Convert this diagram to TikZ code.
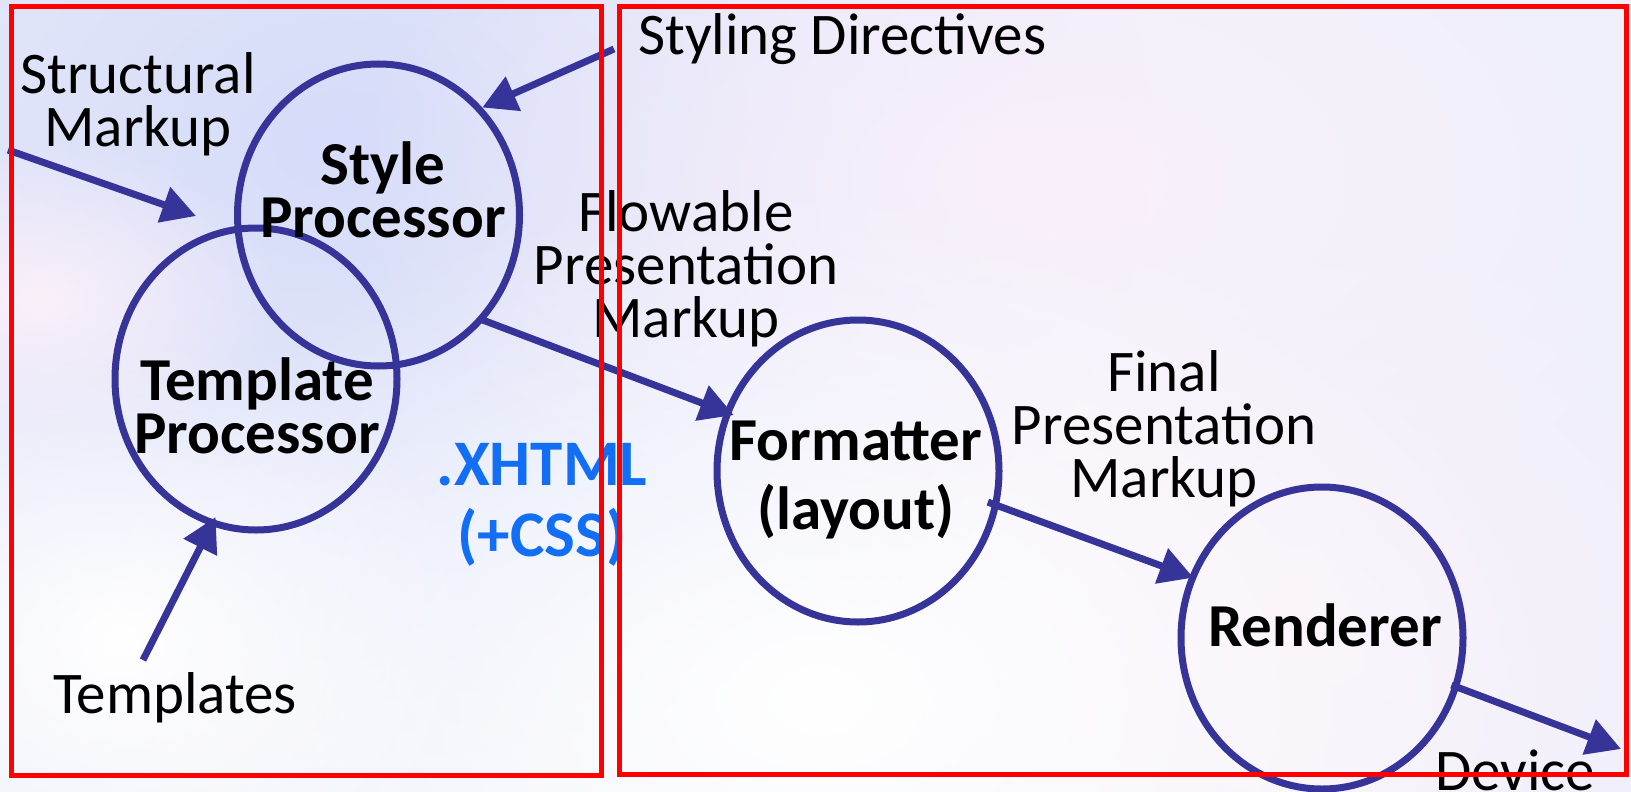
\documentclass[tikz,border=0pt]{standalone}
\usepackage{fontspec}
\setmainfont{Carlito}
\usetikzlibrary{arrows.meta,shapes.geometric,fadings}

\definecolor{procblue}{RGB}{54,51,153}
\definecolor{framered}{RGB}{255,0,0}
\definecolor{docblue}{RGB}{17,110,245}
\definecolor{bgbase}{RGB}{238,240,251}
\definecolor{bglav}{RGB}{214,220,249}
\definecolor{bgpink}{RGB}{250,240,250}
\definecolor{bgwhite}{RGB}{255,255,255}

\tikzfading[name=softblob, inner color=transparent!0, outer color=transparent!100]

\begin{document}
\begin{tikzpicture}[x=1pt,y=-1pt,
  proc/.style={draw=procblue, line width=7pt, ellipse,
    minimum width=282pt, minimum height=302pt, inner sep=0pt},
  flow/.style={draw=procblue, fill=procblue, line width=7pt,
    -{Triangle[length=34pt,width=36pt]}},
  lbl/.style={font=\fontsize{59}{53}\selectfont, align=center,
    inner sep=0pt, anchor=base},
  plbl/.style={lbl, font=\bfseries\fontsize{61}{53}\selectfont},
  frame/.style={draw=framered, line width=5pt}
]
\useasboundingbox (0,0) rectangle (1631,792);

% soft background wash
\fill[bgbase] (0,0) rectangle (1631,792);
\fill[bglav, path fading=softblob] (340,140) ellipse (820 and 620);
\fill[bgpink, path fading=softblob] (1050,180) ellipse (700 and 420);
\fill[bgpink, path fading=softblob] (1300,620) ellipse (520 and 420);
\fill[bgwhite, path fading=softblob] (820,700) ellipse (760 and 520);
\fill[bgwhite, path fading=softblob] (120,640) ellipse (360 and 300);
\fill[bgpink, path fading=softblob] (40,300) ellipse (240 and 160);

% processing stages
\node[proc] (style) at (378.5,215) {};
\node[proc] (template) at (256,379) {};
\node[proc] (formatter) at (858,471) {};
\node[proc] (renderer) at (1322,638) {};

% labels (a multi-line label sits on the baseline of its last line)
\node[lbl, anchor=base west] (styling) at (638,55) {Styling Directives};
\node[lbl] (structural) at (138,146) {Structural\\Markup};
\node[lbl] (templates) at (175,713) {Templates};
\node[plbl] (styletxt) at (383,237) {Style\\Processor};
\node[plbl] (templatetxt) at (257,453) {Template\\Processor};
\node[plbl, text=docblue, font=\bfseries\fontsize{65}{71}\selectfont]
  (xhtml) at (542,556) {.XHTML\\(+CSS)};
\node[lbl] (flowable) at (686,337) {Flowable\\Presentation\\Markup};
\node[plbl, font=\bfseries\fontsize{61}{69}\selectfont]
  (formattertxt) at (856,529) {Formatter\\(layout)};
\node[lbl] (final) at (1164,497) {Final\\Presentation\\Markup};
\node[plbl] (renderertxt) at (1325,646) {Renderer};
\node[lbl, anchor=base west] (device) at (1435,790) {Device};

% free ends of the flows
\coordinate (sdfrom) at (614,49);
\coordinate (smfrom) at (8,150);
\coordinate (smto) at (196,216);
\coordinate (tplfrom) at (143,660);
\coordinate (devto) at (1621,749);

% flows
\draw[flow] (sdfrom) -- (style.46.5);
\draw[flow] (smfrom) -- (smto);
\draw[flow, shorten >=-9.9pt] (tplfrom) -- (template.-107.9);
\draw[flow, shorten <=-5.6pt, shorten >=-9.8pt] (style.-45.9) -- (formatter.156.1);
\draw[flow, shorten <=-11.6pt, shorten >=-4.1pt] (formatter.-14.8) -- (renderer.155.3);
\draw[flow, shorten <=-7.8pt] (renderer.-20.9) -- (devto);

% grouping frames
\draw[frame] (11,7) rectangle (601.5,775);
\draw[frame] (619,7) rectangle (1626,774.5);
\end{tikzpicture}
\end{document}
